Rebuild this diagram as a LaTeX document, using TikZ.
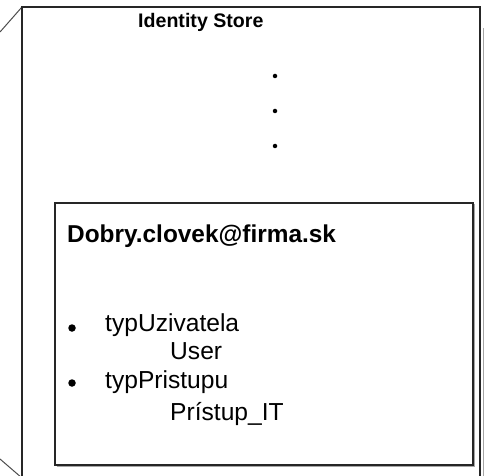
\documentclass[tikz,border=0pt]{standalone}
\usepackage{fontspec}
\setmainfont{Liberation Sans}
\begin{document}
\begin{tikzpicture}[x=1pt,y=-1pt,
  frame/.style={draw=black!85,line width=1.4pt},
  shade/.style={draw=black!35,line width=1pt},
  title/.style={font=\bfseries\fontsize{19.6}{22}\selectfont,anchor=base west,inner sep=0pt},
  head/.style={font=\bfseries\fontsize{24.4}{28}\selectfont,anchor=base west,inner sep=0pt},
  item/.style={font=\fontsize{24.6}{28}\selectfont,anchor=base west,inner sep=0pt},
  bullet/.style={circle,fill=black,inner sep=0pt,minimum size=7.5pt},
  vdot/.style={circle,fill=black,inner sep=0pt,minimum size=4.5pt}]
\useasboundingbox (0,0) rectangle (485,476);
\clip (0,0) rectangle (485,476);
% store body: receding side edges and the front face
\draw[shade] (483,28) -- (483,480);
\draw[draw=black!70,line width=1pt] (22,7) -- (0,32);
\draw[draw=black!70,line width=1pt] (22,478) -- (0,459);
\draw[frame] (22,480) -- (22,7) -- (480,7) -- (480,480);
\node[title] (store) at (138,28) {Identity Store};
\node[vdot] (d1) at (275,76) {};
\node[vdot] (d2) at (275,111) {};
\node[vdot] (d3) at (275,146) {};
% identity record
\draw[shade] (56.5,466.5) -- (474.5,466.5) -- (474.5,204.5);
\draw[frame] (55,203) rectangle (473,465);
\node[head] (id) at (67,243) {Dobry.clovek@firma.sk};
\node[bullet] (b1) at (72,328) {};
\node[item] (a1) at (105,331.5) {typUzivatela};
\node[item] (v1) at (170,359) {User};
\node[bullet] (b2) at (72,383) {};
\node[item] (a2) at (105,388) {typPristupu};
\node[item] (v2) at (170,420) {Prístup\_IT};
\end{tikzpicture}
\end{document}
